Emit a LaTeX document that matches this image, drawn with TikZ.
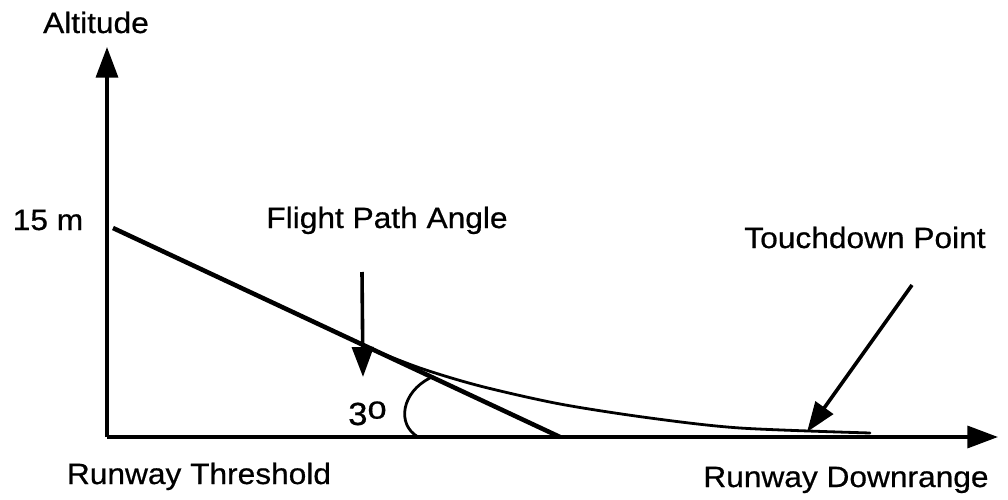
\documentclass[tikz,border=0pt]{standalone}
\usepackage{fontspec}
\setmainfont{Liberation Sans}[FakeStretch=1.08, FakeBold=0.6]
\usetikzlibrary{arrows.meta}
\tikzset{
  lbl/.style={inner sep=0pt, anchor=base, font=\fontsize{22}{26}\selectfont},
  axis/.style={line width=2.6pt, -{Triangle[length=23pt,width=16.5pt]}},
  pointer/.style={line width=2.7pt, -{Triangle[length=22.5pt,width=16pt]}},
  glide/.style={line width=3.4pt},
  thin curve/.style={line width=2.1pt, line cap=round},
}
\begin{document}
\begin{tikzpicture}[x=0.75pt, y=-0.75pt]
\useasboundingbox (0,0) rectangle (1008,500);
% points
\coordinate (O) at (107,437);
\coordinate (ytip) at (107,47);
\coordinate (xtip) at (998,437);
\coordinate (g0) at (113,228);
\coordinate (g1) at (560,437);
\coordinate (fpa0) at (362,272);
\coordinate (fpa1) at (363,377);
\coordinate (td0) at (912,285);
\coordinate (td1) at (807,432);
\coordinate (a0) at (430,378);
\coordinate (a1) at (418,437);
% axes
\draw[axis] (O) -- (ytip);
\draw[axis] (O) -- (xtip);
% glide slope
\draw[glide] (g0) -- (g1);
% flare
\draw[thin curve] plot[smooth, tension=0.5] coordinates {(366,347) (420,368) (480,386) (560,404) (650,418) (740,428) (870,433)};
% angle arc
\draw[thin curve] (a0) .. controls (402,392) and (396,424) .. (a1);
% pointers
\draw[pointer] (fpa0) -- (fpa1);
\draw[pointer] (td0) -- (td1);
% labels
\node[lbl] (alt) at (96,33) {Altitude};
\node[lbl] (h15) at (48,230) {15 m};
\node[lbl] (fpa) at (387,228) {Flight Path Angle};
\node[lbl] (td) at (865,248) {Touchdown Point};
\node[lbl] (thr) at (199,484) {Runway Threshold};
\node[lbl] (dr) at (846,487) {Runway Downrange};
\node[inner sep=0pt, anchor=base west, font=\fontsize{24}{28}\selectfont] (ang) at (348,425) {3\raisebox{4.8pt}{o}};
\end{tikzpicture}
\end{document}
